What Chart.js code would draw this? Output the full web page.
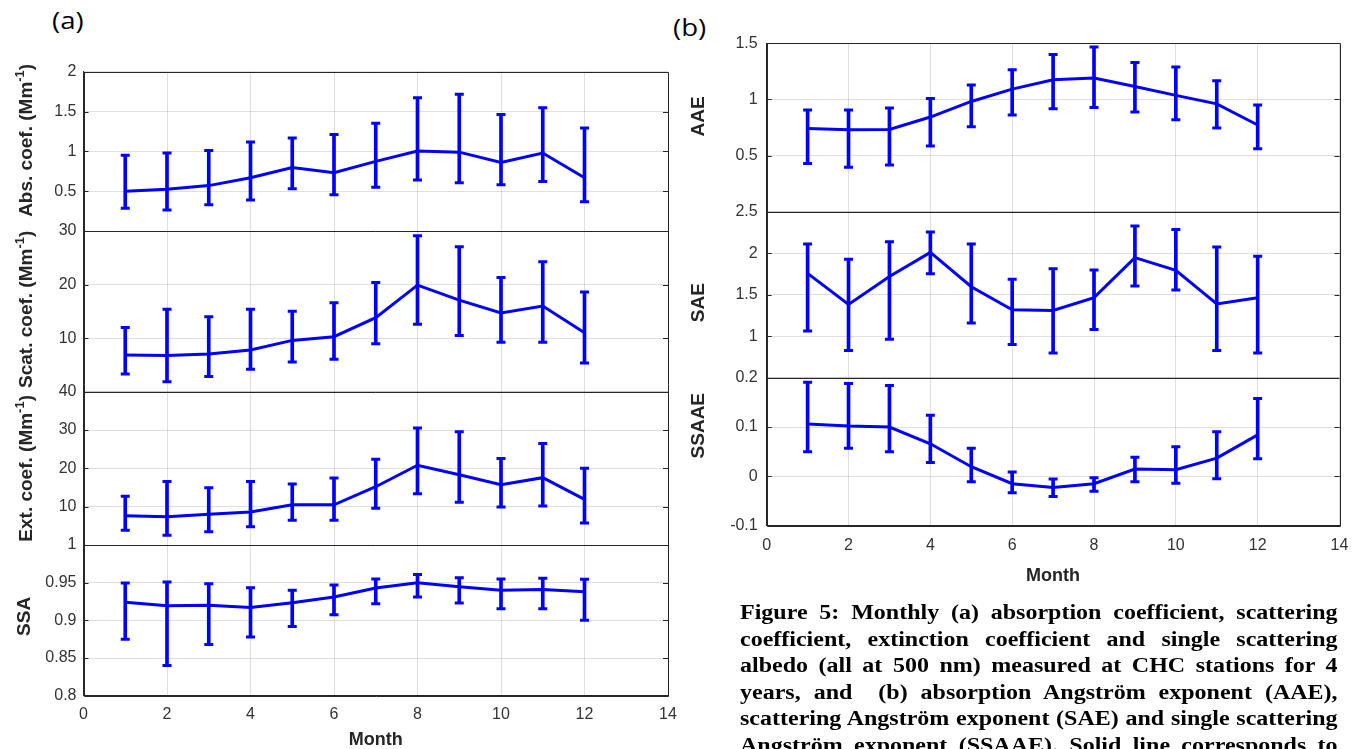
<!DOCTYPE html>
<html>
<head>
<meta charset="utf-8">
<script src="https://cdn.jsdelivr.net/npm/chart.js@4.4.1/dist/chart.umd.min.js"></script>
<style>
  html, body { margin: 0; padding: 0; background: #fff; width: 1360px; height: 749px; overflow: hidden; position: relative; }
  #boxA { position: absolute; left: 0; top: 0; width: 680px; height: 749px; }
  #boxB { position: absolute; left: 680px; top: 0; width: 680px; height: 600px; }
  .tag { position: absolute; font-family: "Open Sans", "Liberation Sans", sans-serif; font-size: 23px; line-height: 23px;
         color: #000; transform: scaleX(1.2); transform-origin: left top; white-space: nowrap; }
  #caption { position: absolute; left: 740px; top: 599px; width: 498px; transform: scaleX(1.2); transform-origin: left top;
             font-family: "Liberation Serif", "Times New Roman", serif; font-weight: bold; font-size: 20px; line-height: 26.5px; color: #000; }
  #caption div { text-align: justify; text-align-last: justify; }
</style>
</head>
<body>
<div class="tag" style="left:52px; top:9px;">(a)</div>
<div class="tag" style="left:673px; top:16px;">(b)</div>
<div id="boxA"><canvas id="chartA" width="680" height="749"></canvas></div>
<div id="boxB"><canvas id="chartB" width="680" height="600"></canvas></div>
<div id="caption">
  <div>Figure 5: Monthly (a) absorption coefficient, scattering</div>
  <div>coefficient, extinction coefficient and single scattering</div>
  <div>albedo (all at 500 nm) measured at CHC stations for 4</div>
  <div>years, and&nbsp; (b) absorption Angström exponent (AAE),</div>
  <div>scattering Angström exponent (SAE) and single scattering</div>
  <div>Angström exponent (SSAAE). Solid line corresponds to</div>
</div>
<script>
// ---- monthly statistics: mean with lower / upper error-bar limits ----
const months = [1, 2, 3, 4, 5, 6, 7, 8, 9, 10, 11, 12];

const absMean = [0.50, 0.525, 0.57, 0.668, 0.798, 0.731, 0.874, 1.004, 0.99, 0.861, 0.979, 0.668];
const absLow  = [0.286, 0.265, 0.33, 0.39, 0.53, 0.454, 0.55, 0.639, 0.605, 0.58, 0.622, 0.366];
const absHigh = [0.95, 0.98, 1.01, 1.118, 1.168, 1.21, 1.353, 1.672, 1.718, 1.462, 1.546, 1.294];

const scatMean = [6.85, 6.78, 7.03, 7.78, 9.58, 10.27, 13.81, 19.9, 17.1, 14.69, 15.99, 11.01];
const scatLow  = [3.3, 1.87, 2.86, 4.17, 5.54, 6.04, 8.96, 12.57, 10.5, 9.21, 9.21, 5.35];
const scatHigh = [12.0, 15.37, 14.0, 15.37, 15.0, 16.6, 20.4, 29.1, 27.07, 21.34, 24.27, 18.6];

const extMean = [7.65, 7.39, 8.0, 8.6, 10.5, 10.5, 15.2, 20.8, 18.35, 15.74, 17.57, 11.9];
const extLow  = [3.83, 2.52, 3.48, 4.78, 6.43, 6.43, 9.57, 13.4, 11.13, 9.9, 10.17, 5.74];
const extHigh = [12.7, 16.6, 14.96, 16.6, 15.9, 17.5, 22.35, 30.5, 29.57, 22.6, 26.5, 20.0];

const ssaMean = [0.924, 0.9195, 0.920, 0.917, 0.9235, 0.931, 0.943, 0.950, 0.9447, 0.940, 0.941, 0.938];
const ssaLow  = [0.8748, 0.840, 0.868, 0.878, 0.892, 0.9075, 0.922, 0.931, 0.923, 0.9155, 0.9155, 0.900];
const ssaHigh = [0.9496, 0.951, 0.9487, 0.9434, 0.940, 0.947, 0.955, 0.961, 0.9566, 0.955, 0.956, 0.9544];

const aaeMean = [0.742, 0.73, 0.733, 0.843, 0.982, 1.092, 1.175, 1.19, 1.116, 1.036, 0.961, 0.772];
const aaeLow  = [0.43, 0.395, 0.415, 0.585, 0.757, 0.861, 0.917, 0.929, 0.887, 0.819, 0.745, 0.561];
const aaeHigh = [0.905, 0.905, 0.923, 1.009, 1.128, 1.264, 1.40, 1.466, 1.33, 1.288, 1.166, 0.95];

const saeMean = [1.757, 1.383, 1.72, 2.01, 1.596, 1.319, 1.311, 1.464, 1.946, 1.793, 1.388, 1.464];
const saeLow  = [1.062, 0.829, 0.962, 1.753, 1.159, 0.90, 0.797, 1.082, 1.604, 1.556, 0.829, 0.797];
const saeHigh = [2.11, 1.926, 2.139, 2.255, 2.11, 1.685, 1.813, 1.797, 2.327, 2.287, 2.074, 1.962];

const ssaaeMean = [0.106, 0.102, 0.10, 0.066, 0.0195, -0.0148, -0.0228, -0.0148, 0.0148, 0.0134, 0.037, 0.084];
const ssaaeLow  = [0.050, 0.057, 0.05, 0.028, -0.011, -0.033, -0.041, -0.030, -0.011, -0.014, -0.005, 0.0356];
const ssaaeHigh = [0.191, 0.188, 0.184, 0.124, 0.057, 0.0087, -0.0054, -0.0027, 0.039, 0.060, 0.0906, 0.158];

// axis ranges: [min, max, step]
const monthRange = [0, 14, 2];
const absRange   = [0, 2, 0.5];
const scatRange  = [0, 30, 10];
const extRange   = [0, 40, 10];
const ssaRange   = [0.8, 1, 0.05];
const aaeRange   = [0, 1.5, 0.5];
const saeRange   = [0.5, 2.5, 0.5];
const ssaaeRange = [-0.1, 0.2, 0.1];

// ---- styling ----
const BLUE = '#0000ff';
const AXIS = '#262626';
const TICK = '#333333';
const GRID = 'rgba(38,38,38,0.15)';
Chart.defaults.font.family = '"Liberation Sans", Arial, Helvetica, sans-serif';
Chart.defaults.animation = false;

const fmt = v => String(Math.round(v * 1000) / 1000);

// mean line + floating-bar error whiskers + line-style caps, all on one y axis
function panelDatasets(axisId, mean, low, high) {
  return [
    { type: 'line', yAxisID: axisId, order: 1,
      data: months.map((m, i) => ({ x: m, y: mean[i] })),
      borderColor: BLUE, borderWidth: 3, pointRadius: 0, tension: 0, fill: false },
    { type: 'bar', yAxisID: axisId, order: 2, grouped: false,
      data: months.map((m, i) => ({ x: m, y: [low[i], high[i]] })),
      backgroundColor: BLUE, barThickness: 3 },
    { type: 'line', yAxisID: axisId, order: 0, showLine: false,
      data: months.flatMap((m, i) => [{ x: m, y: low[i] }, { x: m, y: high[i] }]),
      pointStyle: 'line', pointRadius: 4.5, pointBorderWidth: 3, pointBorderColor: BLUE, borderColor: BLUE }
  ];
}

function yAxis(range, stackName, weight, hideMin, width, pad) {
  return {
    type: 'linear', position: 'left', stack: stackName, stackWeight: weight,
    min: range[0], max: range[1],
    ticks: { stepSize: range[2], autoSkip: false, padding: pad, color: TICK, font: { size: 16 },
             callback: (v, i) => (hideMin && i === 0) ? '' : fmt(v) },
    grid: { color: GRID, drawTicks: false },
    border: { color: AXIS },
    afterFit: s => { s.width = width; }
  };
}

function xAxis(height, tickPad, titlePad) {
  return {
    type: 'linear', offset: false, min: monthRange[0], max: monthRange[1],
    ticks: { stepSize: monthRange[2], padding: tickPad, color: TICK, font: { size: 16 }, maxRotation: 0, callback: v => fmt(v) },
    grid: { color: GRID, drawTicks: false, offset: false },
    border: { color: AXIS },
    title: { display: true, text: 'Month', color: AXIS, font: { size: 18, weight: 'bold' }, padding: { top: 0, bottom: titlePad } },
    afterFit: s => { s.height = height; s.paddingLeft = 0; s.paddingRight = 0; }
  };
}

// box outline, panel separators, inward ticks and rotated y titles with superscripts
const panelFrame = {
  id: 'panelFrame',
  afterDatasetsDraw(chart) {
    const { ctx, chartArea: a } = chart;
    const px = v => Math.round(v) + 0.5;
    ctx.save();
    ctx.strokeStyle = AXIS;
    ctx.lineWidth = 1;
    ctx.beginPath();
    ctx.rect(px(a.left), px(a.top), Math.round(a.right) - Math.round(a.left), Math.round(a.bottom) - Math.round(a.top));
    Object.values(chart.scales).forEach(s => {
      if (s.axis !== 'y') return;
      ctx.moveTo(a.left, px(s.top));
      ctx.lineTo(a.right, px(s.top));
      s.ticks.forEach((t, i) => {
        if (i === 0 || i === s.ticks.length - 1) return;
        const y = px(s.getPixelForValue(t.value));
        ctx.moveTo(a.left, y); ctx.lineTo(a.left + 5, y);
        ctx.moveTo(a.right - 5, y); ctx.lineTo(a.right, y);
      });
    });
    ctx.stroke();
    ctx.restore();
  },
  afterDraw(chart, args, opts) {
    const { ctx } = chart;
    (opts.titles || []).forEach(t => {
      const s = chart.scales[t.id];
      const cy = (s.top + s.bottom) / 2 + t.dy;
      const big = 'bold 19px "Liberation Sans", Arial, sans-serif';
      const small = 'bold 13px "Liberation Sans", Arial, sans-serif';
      ctx.save();
      ctx.translate(t.x, cy);
      ctx.rotate(-Math.PI / 2);
      ctx.fillStyle = AXIS;
      ctx.textBaseline = 'middle';
      ctx.textAlign = 'left';
      let total = 0;
      t.parts.forEach(p => { ctx.font = p[1] ? small : big; total += ctx.measureText(p[0]).width; });
      let x = -total / 2;
      t.parts.forEach(p => {
        ctx.font = p[1] ? small : big;
        ctx.fillText(p[0], x, p[1] ? -7 : 0);
        x += ctx.measureText(p[0]).width;
      });
      ctx.restore();
    });
  }
};

// ---- (a) absorption / scattering / extinction / SSA ----
new Chart(document.getElementById('chartA'), {
  type: 'line',
  data: {
    datasets: [
      ...panelDatasets('yAbs', absMean, absLow, absHigh),
      ...panelDatasets('yScat', scatMean, scatLow, scatHigh),
      ...panelDatasets('yExt', extMean, extLow, extHigh),
      ...panelDatasets('ySsa', ssaMean, ssaLow, ssaHigh)
    ]
  },
  options: {
    responsive: false,
    events: [],
    layout: { padding: { left: 0, top: 71.7, right: 12, bottom: 0 } },
    scales: {
      x: xAxis(53.3, 9, -2),
      ySsa: yAxis(ssaRange, 'a', 150.7, false, 83.5, 7),
      yExt: yAxis(extRange, 'a', 153.3, true, 83.5, 7),
      yScat: yAxis(scatRange, 'a', 160.7, true, 83.5, 7),
      yAbs: yAxis(absRange, 'a', 159.3, true, 83.5, 7)
    },
    plugins: {
      legend: { display: false },
      tooltip: { enabled: false },
      panelFrame: {
        titles: [
          { id: 'yAbs', x: 27, dy: -11, parts: [['Abs. coef. (Mm'], ['-1', true], [')']] },
          { id: 'yScat', x: 27, dy: -2, parts: [['Scat. coef. (Mm'], ['-1', true], [')']] },
          { id: 'yExt', x: 27, dy: 0, parts: [['Ext. coef. (Mm'], ['-1', true], [')']] },
          { id: 'ySsa', x: 25, dy: -4, parts: [['SSA']] }
        ]
      }
    }
  },
  plugins: [panelFrame]
});

// ---- (b) AAE / SAE / SSAAE ----
new Chart(document.getElementById('chartB'), {
  type: 'line',
  data: {
    datasets: [
      ...panelDatasets('yAae', aaeMean, aaeLow, aaeHigh),
      ...panelDatasets('ySae', saeMean, saeLow, saeHigh),
      ...panelDatasets('ySsaae', ssaaeMean, ssaaeLow, ssaaeHigh)
    ]
  },
  options: {
    responsive: false,
    events: [],
    layout: { padding: { left: 0, top: 43.3, right: 20.5, bottom: 0 } },
    scales: {
      x: xAxis(74.3, 10, 13),
      ySsaae: yAxis(ssaaeRange, 'b', 148, false, 86.7, 9),
      ySae: yAxis(saeRange, 'b', 166, true, 86.7, 9),
      yAae: yAxis(aaeRange, 'b', 168.4, true, 86.7, 9)
    },
    plugins: {
      legend: { display: false },
      tooltip: { enabled: false },
      panelFrame: {
        titles: [
          { id: 'yAae', x: 19, dy: -11, parts: [['AAE']] },
          { id: 'ySae', x: 19, dy: 8, parts: [['SAE']] },
          { id: 'ySsaae', x: 19, dy: -26, parts: [['SSAAE']] }
        ]
      }
    }
  },
  plugins: [panelFrame]
});
</script>
</body>
</html>
